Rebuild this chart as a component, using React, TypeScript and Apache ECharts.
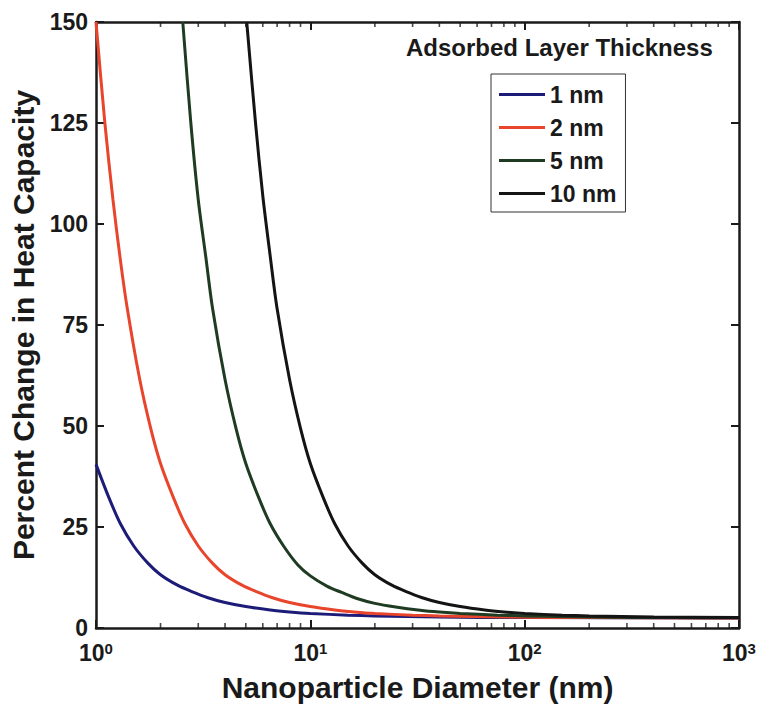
import React, { useEffect, useRef } from "react";
import * as echarts from "echarts";

// ---- data ----
const seriesNames = ["1 nm", "2 nm", "5 nm", "10 nm"];

const diam1nm = [1, 1.15, 1.3, 1.5, 1.75, 2, 2.4, 2.8, 3.3, 4, 5, 6.5, 8, 10, 15, 20, 40, 100, 1000];
const pct1nm = [40.5, 32.2, 25.8, 20.3, 16.0, 13.2, 10.6, 9.0, 7.55, 6.3, 5.3, 4.46, 3.98, 3.6, 3.18, 2.98, 2.71, 2.57, 2.5];

const diam2nm = [1, 1.1, 1.2, 1.3, 1.4, 1.6, 1.8, 2, 2.3, 2.6, 3, 3.5, 4, 4.8, 5.6, 6.6, 8, 10, 13, 16, 20, 30, 40, 80, 200, 1000];
const pct2nm = [150, 125, 106, 91, 79, 61.5, 49.4, 40.7, 32.2, 25.8, 20.3, 16.0, 13.2, 10.6, 9.0, 7.55, 6.3, 5.3, 4.46, 3.98, 3.6, 3.18, 2.98, 2.71, 2.57, 2.5];

const diam5nm = [2.54, 2.77, 3.0, 3.25, 3.5, 4, 4.5, 5, 5.75, 6.5, 7.5, 8.75, 10, 12, 14, 16.5, 20, 25, 32.5, 40, 50, 75, 100, 200, 500, 1000];
const pct5nm = [150, 125, 106, 92, 79, 61.5, 49.4, 40.7, 32.2, 25.8, 20.3, 15.6, 12.9, 10.3, 8.8, 7.3, 6.1, 5.2, 4.4, 3.95, 3.6, 3.18, 2.98, 2.71, 2.57, 2.52];

const diam10nm = [5.05, 5.55, 6, 6.5, 7, 8, 9, 10, 11.5, 13, 15, 17.5, 20, 24, 28, 33, 40, 50, 65, 80, 100, 150, 200, 400, 1000];
const pct10nm = [150, 125, 107, 92, 79, 61.5, 49.4, 40.7, 32.2, 25.8, 20.3, 16.0, 13.2, 10.6, 9.0, 7.55, 6.3, 5.3, 4.46, 3.98, 3.6, 3.18, 2.98, 2.71, 2.57];

const xTickValues = [1, 10, 100, 1000];
const xTickExponents = ["0", "1", "2", "3"];
const xMinorTickValues = [2, 3, 4, 5, 6, 7, 8, 9, 20, 30, 40, 50, 60, 70, 80, 90, 200, 300, 400, 500, 600, 700, 800, 900];
const yTickLabels = ["0", "25", "50", "75", "100", "125", "150"];

const FONT = '"Liberation Sans", Arial, Helvetica, sans-serif';
const INK = "#1a1a1a";
const COLORS = ["#1c1c78", "#e8452c", "#1f3b22", "#141414"];

function zip(xs: number[], ys: number[]) {
  return xs.map((x, i) => [x, ys[i]]);
}

export default function App() {
  const ref = useRef<HTMLDivElement>(null);

  useEffect(() => {
    if (!ref.current) return;
    const chart = echarts.init(ref.current, undefined, { renderer: "svg" });
    const datasets = [
      zip(diam1nm, pct1nm),
      zip(diam2nm, pct2nm),
      zip(diam5nm, pct5nm),
      zip(diam10nm, pct10nm),
    ];

    const xAxisCommon = {
      type: "log" as const,
      logBase: 10,
      min: 1,
      max: 1000,
      gridIndex: 0,
      axisLine: { show: true, onZero: false, lineStyle: { color: INK, width: 2.5 } },
      axisTick: { show: true, inside: true, length: 8, lineStyle: { color: INK, width: 2 } },
      splitLine: { show: false },
    };
    const yAxisCommon = {
      type: "value" as const,
      min: 0,
      max: 150,
      interval: 25,
      gridIndex: 0,
      axisLine: { show: true, onZero: false, lineStyle: { color: INK, width: 2.5 } },
      axisTick: { show: true, inside: true, length: 8, lineStyle: { color: INK, width: 2 } },
      splitLine: { show: false },
    };

    const minorTickSeries = (yVal: number, offset: number) => ({
      type: "scatter",
      xAxisIndex: 0,
      yAxisIndex: 0,
      data: xMinorTickValues.map((v) => [v, yVal]),
      symbol: "rect",
      symbolSize: [1.6, 5],
      symbolOffset: [0, offset],
      itemStyle: { color: INK },
      silent: true,
      clip: false,
      legendHoverLink: false,
      z: 10,
    });

    chart.setOption({
      animation: false,
      backgroundColor: "#ffffff",
      title: {
        text: "Adsorbed Layer Thickness",
        left: 406,
        top: 35,
        padding: 0,
        textStyle: { fontFamily: FONT, fontSize: 24, fontWeight: "bold", color: INK },
      },
      legend: {
        data: seriesNames,
        orient: "vertical",
        left: 491,
        top: 74,
        padding: [9, 9, 7, 8],
        itemWidth: 46,
        itemHeight: 3,
        itemGap: 10,
        icon: "rect",
        borderColor: "#333",
        borderWidth: 1,
        backgroundColor: "#ffffff",
        textStyle: { fontFamily: FONT, fontSize: 23, fontWeight: "bold", color: INK },
      },
      grid: { left: 96, right: 21, top: 22, bottom: 70, containLabel: false },
      xAxis: [
        {
          ...xAxisCommon,
          position: "bottom",
          name: "Nanoparticle Diameter (nm)",
          nameLocation: "middle",
          nameGap: 44,
          nameTextStyle: { fontFamily: FONT, fontSize: 30, fontWeight: "bold", color: INK },
          axisLabel: {
            show: true,
            margin: 13,
            formatter: (v: number) => {
              const i = xTickValues.findIndex((t) => Math.abs(t - v) < 1e-6 * t);
              return i < 0 ? "" : `{b|10}{s|${xTickExponents[i]}}`;
            },
            rich: {
              b: {
                fontFamily: FONT,
                fontSize: 23,
                fontWeight: "bold",
                color: INK,
                lineHeight: 23,
                verticalAlign: "bottom",
                padding: [6, 0, 0, 0],
              },
              s: {
                fontFamily: FONT,
                fontSize: 15,
                fontWeight: "bold",
                color: INK,
                lineHeight: 15,
                verticalAlign: "top",
              },
            },
          },
        },
        {
          ...xAxisCommon,
          position: "top",
          axisLabel: { show: false },
        },
      ],
      yAxis: [
        {
          ...yAxisCommon,
          position: "left",
          name: "Percent Change in Heat Capacity",
          nameLocation: "middle",
          nameGap: 56,
          nameTextStyle: { fontFamily: FONT, fontSize: 30, fontWeight: "bold", color: INK },
          axisLabel: {
            show: true,
            margin: 8,
            fontFamily: FONT,
            fontSize: 23,
            fontWeight: "bold",
            color: INK,
            formatter: (v: number) => yTickLabels[Math.round(v / 25)] ?? "",
          },
        },
        {
          ...yAxisCommon,
          position: "right",
          axisLabel: { show: false },
        },
      ],
      series: [
        ...datasets.map((data, i) => ({
          name: seriesNames[i],
          type: "line",
          xAxisIndex: 0,
          yAxisIndex: 0,
          data,
          showSymbol: false,
          symbol: "none",
          smooth: 0.3,
          clip: true,
          color: COLORS[i],
          lineStyle: { color: COLORS[i], width: 3 },
          z: 2 + i,
        })),
        minorTickSeries(0, -2.5),
        minorTickSeries(150, 2.5),
      ],
    });

    return () => chart.dispose();
  }, []);

  return (
    <div
      ref={ref}
      style={{ position: "fixed", left: 0, top: 0, width: 760, height: 707, background: "#fff" }}
    />
  );
}
